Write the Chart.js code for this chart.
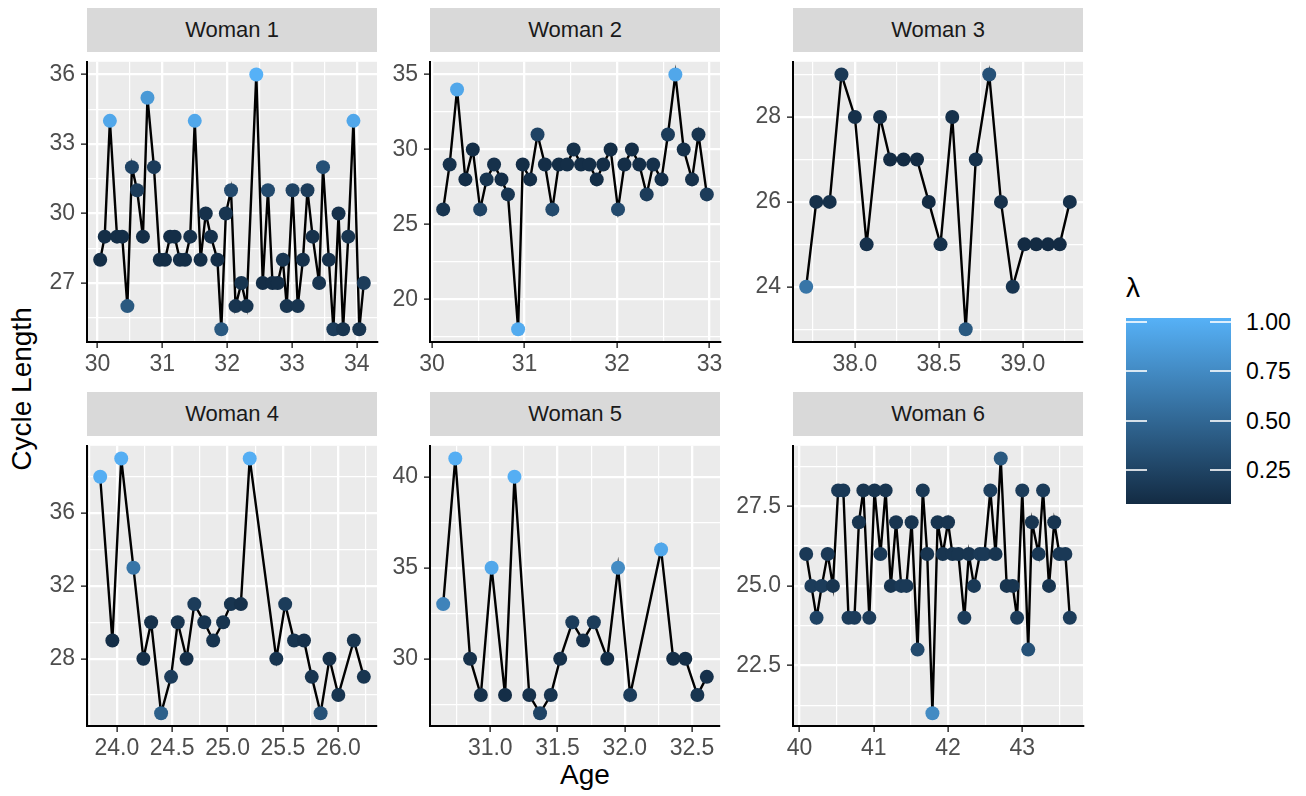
<!DOCTYPE html>
<html>
<head>
<meta charset="utf-8">
<script src="https://cdn.jsdelivr.net/npm/chart.js@4.4.1/dist/chart.umd.min.js"></script>
<style>
body { margin: 0; background: #fff; width: 1306px; height: 796px; position: relative; overflow: hidden; font-family: "Liberation Sans", Arial, sans-serif; }
canvas { position: absolute; }
.strip { position: absolute; width: 290px; height: 44px; line-height: 44px; background: #D9D9D9; color: #1A1A1A; font-size: 22px; text-align: center; }
.title { position: absolute; font-size: 28px; color: #000; white-space: nowrap; line-height: 1; }
.lab { position: absolute; font-size: 23px; color: #000; line-height: 1; transform: translateY(-50%); }
.tk { position: absolute; height: 2px; background: #fff; opacity: .8; }
</style>
</head>
<body>

<div class="title" style="left:22px;top:389px;transform:translate(-50%,-50%) rotate(-90deg)">Cycle Length</div>
<div class="title" style="left:585px;top:761px;transform:translateX(-50%)">Age</div>
<div class="title" style="left:1126px;top:274px">λ</div>
<div id="bar" style="position:absolute;left:1126px;top:318px;width:105px;height:186px;background:linear-gradient(#56B1F7,#132B43)"></div>

<script>
// Woman 1
const age1 = [30.04,30.11,30.19,30.30,30.38,30.46,30.53,30.61,30.70,30.77,30.87,30.96,31.04,31.12,31.19,31.27,31.35,31.43,31.50,31.59,31.67,31.75,31.85,31.91,31.98,32.06,32.13,32.22,32.30,32.45,32.55,32.63,32.70,32.78,32.86,32.92,33.01,33.09,33.17,33.24,33.32,33.42,33.48,33.57,33.64,33.72,33.79,33.87,33.95,34.04,34.11];
const cyc1 = [28,29,34,29,29,26,32,31,29,35,32,28,28,29,29,28,28,29,34,28,30,29,28,25,30,31,26,27,26,36,27,31,27,27,28,26,31,26,28,31,29,27,32,28,25,30,25,29,34,25,27];
const lam1 = [0.1,0.1,0.95,0.1,0.1,0.4,0.25,0.2,0.1,0.85,0.2,0.1,0.1,0.1,0.1,0.1,0.1,0.12,0.95,0.1,0.12,0.12,0.1,0.4,0.15,0.3,0.15,0.15,0.15,1.02,0.1,0.3,0.1,0.1,0.15,0.15,0.25,0.15,0.12,0.2,0.12,0.15,0.35,0.12,0.2,0.12,0.15,0.15,0.95,0.15,0.2];

// Woman 2
const age2 = [30.12,30.19,30.27,30.36,30.44,30.52,30.59,30.67,30.75,30.82,30.93,30.98,31.06,31.14,31.22,31.30,31.37,31.46,31.53,31.61,31.70,31.78,31.85,31.93,32.01,32.08,32.16,32.24,32.32,32.39,32.48,32.55,32.63,32.72,32.81,32.88,32.97];
const cyc2 = [26,29,34,28,30,26,28,29,28,27,18,29,28,31,29,26,29,29,30,29,29,28,29,30,26,29,30,29,27,29,28,31,35,30,28,31,27];
const lam2 = [0.15,0.12,0.95,0.1,0.1,0.25,0.15,0.12,0.1,0.15,0.98,0.1,0.1,0.25,0.1,0.3,0.1,0.1,0.12,0.1,0.1,0.1,0.1,0.1,0.3,0.1,0.1,0.1,0.2,0.12,0.12,0.2,0.95,0.12,0.12,0.15,0.2];

// Woman 3
const age3 = [37.71,37.77,37.85,37.92,38.00,38.07,38.15,38.21,38.29,38.37,38.44,38.51,38.58,38.66,38.72,38.80,38.87,38.94,39.01,39.08,39.15,39.22,39.28];
const cyc3 = [24,26,26,29,28,25,28,27,27,27,26,25,28,23,27,29,26,24,25,25,25,25,26];
const lam3 = [0.6,0.12,0.12,0.18,0.12,0.12,0.12,0.08,0.08,0.08,0.08,0.12,0.12,0.4,0.12,0.35,0.12,0.15,0.08,0.08,0.08,0.08,0.12];

// Woman 4
const age4 = [23.85,23.96,24.04,24.15,24.24,24.31,24.40,24.49,24.55,24.63,24.70,24.79,24.87,24.96,25.03,25.12,25.20,25.44,25.52,25.60,25.69,25.76,25.84,25.92,26.00,26.14,26.23];
const cyc4 = [38,29,39,33,28,30,25,27,30,28,31,30,29,30,31,31,39,28,31,29,29,27,25,28,26,29,27];
const lam4 = [1.0,0.1,1.0,0.6,0.12,0.12,0.45,0.2,0.15,0.12,0.2,0.15,0.15,0.15,0.15,0.12,1.0,0.15,0.2,0.15,0.12,0.15,0.35,0.12,0.15,0.15,0.15];

// Woman 5
const age5 = [30.65,30.74,30.85,30.93,31.01,31.11,31.18,31.29,31.37,31.45,31.52,31.61,31.69,31.77,31.87,31.95,32.04,32.27,32.36,32.45,32.54,32.61];
const cyc5 = [33,41,30,28,35,28,40,28,27,28,30,32,31,32,30,35,28,36,30,30,28,29];
const lam5 = [0.7,1.0,0.12,0.12,0.95,0.1,1.0,0.12,0.25,0.15,0.12,0.2,0.12,0.2,0.1,0.75,0.2,0.95,0.1,0.1,0.15,0.12];

// Woman 6
const age6 = [40.09,40.16,40.23,40.30,40.38,40.45,40.52,40.59,40.66,40.74,40.80,40.86,40.94,41.01,41.09,41.16,41.23,41.30,41.37,41.44,41.51,41.59,41.66,41.72,41.79,41.86,41.93,42.00,42.06,42.14,42.22,42.28,42.35,42.43,42.49,42.57,42.64,42.71,42.79,42.87,42.93,43.00,43.08,43.13,43.22,43.28,43.36,43.43,43.50,43.58,43.64];
const cyc6 = [26,25,24,25,26,25,28,28,24,24,27,28,24,28,26,28,25,27,25,25,27,23,28,26,21,27,26,27,26,26,24,26,25,26,26,28,26,29,25,25,24,28,23,27,26,28,25,27,26,26,24];
const lam6 = [0.18,0.2,0.25,0.2,0.18,0.15,0.18,0.18,0.2,0.2,0.15,0.15,0.2,0.15,0.18,0.15,0.15,0.15,0.18,0.18,0.15,0.3,0.18,0.15,0.75,0.15,0.15,0.15,0.15,0.15,0.2,0.15,0.18,0.18,0.18,0.22,0.15,0.4,0.15,0.15,0.2,0.2,0.35,0.15,0.18,0.2,0.15,0.15,0.18,0.18,0.2];

// tick labels
const xt1 = [30,31,32,33,34], yt1 = [27,30,33,36];
const xt2 = [30,31,32,33], yt2 = [20,25,30,35];
const xt3 = [38,38.5,39], yt3 = [24,26,28];
const xt4 = [24,24.5,25,25.5,26], yt4 = [28,32,36];
const xt5 = [31,31.5,32,32.5], yt5 = [30,35,40];
const xt6 = [40,41,42,43], yt6 = [22.5,25,27.5];
const legendTicks = [0.25,0.5,0.75,1.0];

const FONT = 'Liberation Sans, Arial, sans-serif';
const allLam = [].concat(lam1, lam2, lam3, lam4, lam5, lam6);
const lamMin = Math.min(...allLam), lamMax = Math.max(...allLam);
const low = [19,43,67], high = [86,177,247];

function lamColor(v) {
  const t = (v - lamMin) / (lamMax - lamMin);
  const c = low.map((l, i) => Math.round(l + (high[i] - l) * t));
  return 'rgb(' + c.join(',') + ')';
}

function expand(arr) {
  const lo = Math.min(...arr), hi = Math.max(...arr), d = (hi - lo) * 0.05;
  return [lo - d, hi + d];
}

function axis(vals, major, dec, isX) {
  const [min, max] = expand(vals);
  const step = major[1] - major[0];
  const minor = [major[0] - step / 2].concat(major.map(m => m + step / 2)).filter(v => v > min && v < max);
  const all = major.concat(minor).sort((a, b) => a - b);
  const isMajor = v => major.some(m => Math.abs(m - v) < 1e-9);
  return {
    type: 'linear', min: min, max: max,
    afterBuildTicks: s => { s.ticks = all.map(v => ({ value: v })); },
    afterFit: s => { if (isX) s.height = 40; else s.width = 70; },
    ticks: {
      autoSkip: false, maxRotation: 0, padding: isX ? 3 : 6, color: '#4D4D4D',
      font: { family: FONT, size: 23 },
      callback: v => isMajor(v) ? v.toFixed(dec) : ''
    },
    grid: {
      color: '#FFFFFF',
      lineWidth: c => (c.tick && isMajor(c.tick.value)) ? 2.3 : 1.2,
      tickLength: 6,
      tickWidth: 1.5,
      tickColor: c => (c.tick && isMajor(c.tick.value)) ? '#333333' : 'rgba(0,0,0,0)'
    },
    border: { display: true, color: '#000000', width: 2 }
  };
}

const panelBg = {
  id: 'panelBg',
  beforeDraw(c) {
    const a = c.chartArea;
    c.ctx.save();
    c.ctx.fillStyle = '#EBEBEB';
    c.ctx.fillRect(a.left, a.top, a.width, a.height);
    c.ctx.restore();
  }
};

const panels = [
  { title: 'Woman 1', age: age1, cyc: cyc1, lam: lam1, xt: xt1, yt: yt1, xd: 0, yd: 0, left: 87, top: 52 },
  { title: 'Woman 2', age: age2, cyc: cyc2, lam: lam2, xt: xt2, yt: yt2, xd: 0, yd: 0, left: 430, top: 52 },
  { title: 'Woman 3', age: age3, cyc: cyc3, lam: lam3, xt: xt3, yt: yt3, xd: 1, yd: 0, left: 793, top: 52 },
  { title: 'Woman 4', age: age4, cyc: cyc4, lam: lam4, xt: xt4, yt: yt4, xd: 1, yd: 0, left: 87, top: 436 },
  { title: 'Woman 5', age: age5, cyc: cyc5, lam: lam5, xt: xt5, yt: yt5, xd: 1, yd: 0, left: 430, top: 436 },
  { title: 'Woman 6', age: age6, cyc: cyc6, lam: lam6, xt: xt6, yt: yt6, xd: 0, yd: 1, left: 793, top: 436 }
];

panels.forEach(p => {
  const cv = document.createElement('canvas');
  cv.width = 380; cv.height = 340;
  cv.style.left = (p.left - 70) + 'px';
  cv.style.top = (p.top - 10) + 'px';
  document.body.appendChild(cv);

  const strip = document.createElement('div');
  strip.className = 'strip';
  strip.style.left = p.left + 'px';
  strip.style.top = (p.top - 44) + 'px';
  strip.textContent = p.title;
  document.body.appendChild(strip);

  new Chart(cv.getContext('2d'), {
    type: 'scatter',
    data: {
      datasets: [{
        data: p.age.map((a, i) => ({ x: a, y: p.cyc[i] })),
        showLine: true,
        borderColor: '#000000',
        borderWidth: 2.4,
        pointRadius: 7,
        pointHoverRadius: 7,
        pointBorderWidth: 0,
        pointBackgroundColor: p.lam.map(lamColor),
        clip: false
      }]
    },
    options: {
      animation: false, responsive: false, devicePixelRatio: 1, events: [],
      layout: { padding: { top: 10, right: 20, left: 0, bottom: 0 } },
      plugins: { legend: { display: false }, tooltip: { enabled: false } },
      scales: {
        x: axis(p.age, p.xt, p.xd, true),
        y: axis(p.cyc, p.yt, p.yd, false)
      }
    },
    plugins: [panelBg]
  });
});

// colour bar ticks and labels
const barTop = 318, barH = 186;
legendTicks.forEach(v => {
  const y = barTop + (lamMax - v) / (lamMax - lamMin) * barH;
  [1126, 1210].forEach(x => {
    const t = document.createElement('div');
    t.className = 'tk';
    t.style.left = x + 'px'; t.style.top = (y - 1) + 'px'; t.style.width = '21px';
    document.body.appendChild(t);
  });
  const l = document.createElement('div');
  l.className = 'lab';
  l.style.left = '1246px'; l.style.top = y + 'px';
  l.textContent = v.toFixed(2);
  document.body.appendChild(l);
});
</script>
</body>
</html>
